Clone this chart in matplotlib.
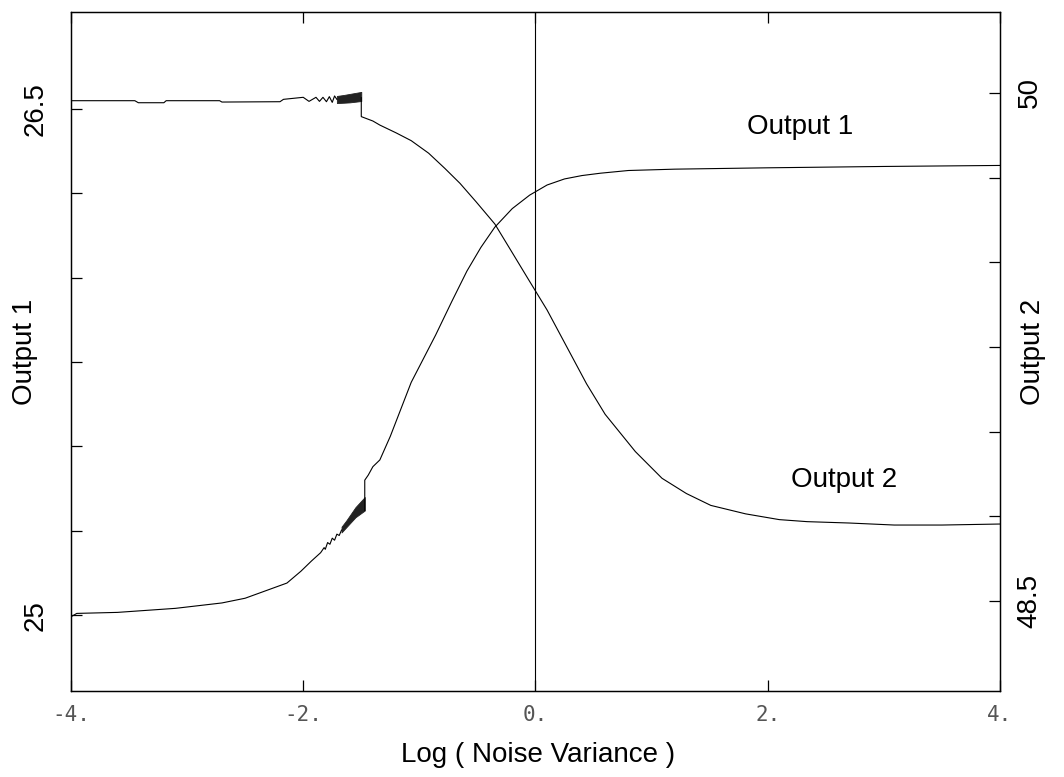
import matplotlib as mpl
mpl.use('Agg')
import matplotlib.pyplot as plt

plt.rcParams['font.family'] = ['Liberation Sans', 'DejaVu Sans']

# Output 1 (left axis)
out1_x = [-4.0, -3.95, -3.6, -3.1, -2.7, -2.5, -2.34, -2.14, -2.02, -1.93, -1.85,
          -1.82, -1.81, -1.79, -1.77, -1.75, -1.73, -1.71, -1.69, -1.67]
out1_y = [24.995, 25.005, 25.008, 25.02, 25.036, 25.05, 25.07, 25.095, 25.13, 25.16, 25.185,
          25.20, 25.195, 25.215, 25.21, 25.228, 25.222, 25.24, 25.236, 25.252]
# dense noisy band just before the jump
band1_x = [-1.67, -1.63, -1.59, -1.55, -1.51, -1.47]
band1_lo = [25.245, 25.26, 25.275, 25.29, 25.30, 25.31]
band1_hi = [25.262, 25.28, 25.30, 25.32, 25.335, 25.35]
# after the jump
out1b_x = [-1.47, -1.47, -1.44, -1.40, -1.34, -1.25, -1.16, -1.07, -0.86, -0.72, -0.59, -0.47,
           -0.35, -0.2, -0.05, 0.1, 0.25, 0.4, 0.56, 0.8, 1.2, 2.0, 3.0, 4.0]
out1b_y = [25.31, 25.40, 25.415, 25.44, 25.46, 25.53, 25.61, 25.69, 25.83, 25.93, 26.02, 26.09,
           26.15, 26.205, 26.245, 26.275, 26.293, 26.303, 26.31, 26.318, 26.322, 26.326, 26.33, 26.333]

# Output 2 (right axis)
out2_x = [-4.0, -3.45, -3.42, -3.2, -3.18, -2.72, -2.70, -2.2, -2.17, -2.0, -1.95, -1.89,
          -1.86, -1.83, -1.80, -1.775, -1.75, -1.73, -1.71]
out2_y = [49.977, 49.977, 49.971, 49.971, 49.977, 49.977, 49.973, 49.974, 49.981, 49.987, 49.975, 49.987,
          49.975, 49.987, 49.974, 49.989, 49.972, 49.991, 49.981]
band2_x = [-1.71, -1.65, -1.60, -1.55, -1.50]
band2_lo = [49.970, 49.971, 49.972, 49.974, 49.976]
band2_hi = [49.991, 49.994, 49.997, 50.000, 50.003]
out2b_x = [-1.50, -1.50, -1.40, -1.34, -1.2, -1.07, -0.92, -0.78, -0.65, -0.51, -0.35, -0.21,
           -0.06, 0.1, 0.27, 0.44, 0.6, 0.86, 1.09, 1.3, 1.51, 1.81, 2.1, 2.34, 2.7, 3.09, 3.5, 4.0]
out2b_y = [49.986, 49.930, 49.917, 49.905, 49.882, 49.859, 49.822, 49.777, 49.733, 49.678, 49.613, 49.534,
           49.449, 49.359, 49.250, 49.141, 49.051, 48.941, 48.862, 48.817, 48.782, 48.757, 48.740, 48.734,
           48.730, 48.724, 48.724, 48.727]

xticks = [-4, -2, 0, 2, 4]
xtick_labels = ['-4.', '-2.', '0.', '2.', '4.']
left_ticks = [25, 25.25, 25.5, 25.75, 26, 26.25, 26.5]
left_labels = ['25', '', '', '', '', '', '26.5']
right_ticks = [48.5, 48.75, 49, 49.25, 49.5, 49.75, 50]
right_labels = ['48.5', '', '', '', '', '', '50']

fig = plt.figure(figsize=(10.64, 7.77), dpi=100)
ax = fig.add_axes([0.0667, 0.1107, 0.8731, 0.8739])
ax2 = ax.twinx()

lw = 0.8
ax.plot(out1_x, out1_y, color='black', lw=lw)
ax.fill_between(band1_x, band1_lo, band1_hi, color='#222222', lw=0.6)
ax.plot(out1b_x, out1b_y, color='black', lw=lw)
ax2.plot(out2_x, out2_y, color='black', lw=lw)
ax2.fill_between(band2_x, band2_lo, band2_hi, color='#222222', lw=0.6)
ax2.plot(out2b_x, out2b_y, color='black', lw=lw)
ax.axvline(0, color='black', lw=lw)

ax.set_xlim(-4, 4)
ax.set_ylim(24.775, 26.788)
ax2.set_ylim(48.234, 50.239)

ax.set_xticks(xticks, labels=xtick_labels, fontfamily='DejaVu Sans Mono', fontsize=15, color='#555555')
ax.set_yticks(left_ticks, labels=left_labels, rotation=90, va='center', fontsize=20)
ax2.set_yticks(right_ticks, labels=right_labels, rotation=90, va='center', fontsize=20)
ax.tick_params(axis='x', direction='in', length=8, width=0.9, top=True, pad=10)
ax.tick_params(axis='y', direction='in', length=8, width=0.9, pad=16)
ax2.tick_params(axis='y', direction='in', length=8, width=0.9, pad=12)

for a in (ax, ax2):
    for s in a.spines.values():
        s.set_linewidth(0.9)

ax.set_xlabel('Log ( Noise Variance )', fontsize=20, va='center')
ax.xaxis.set_label_coords(0.503, -0.094)
ax.set_ylabel('Output 1', fontsize=20, va='center')
ax.yaxis.set_label_coords(-0.0495, 0.5)
ax2.set_ylabel('Output 2', fontsize=20, rotation=90, va='center')
ax2.yaxis.set_label_coords(1.0355, 0.5)

ax.text(2.28, 26.447, 'Output 1', fontsize=20, ha='center', va='center')
ax.text(2.66, 25.40, 'Output 2', fontsize=20, ha='center', va='center')

fig.savefig('out.png', dpi=100)
